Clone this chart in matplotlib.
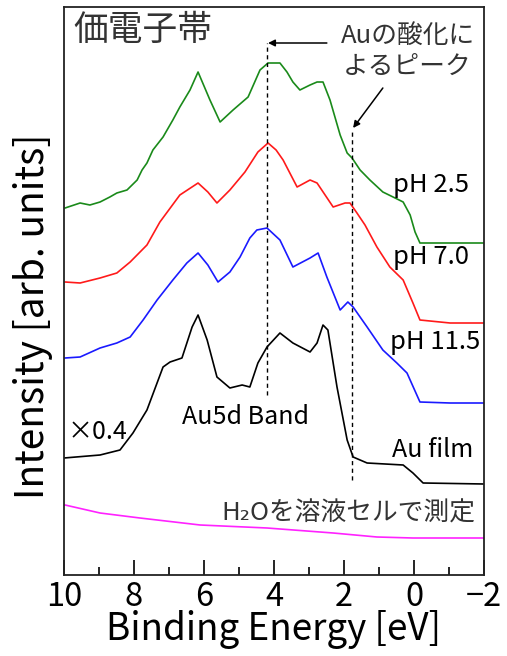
import matplotlib
matplotlib.use("Agg")
import matplotlib.pyplot as plt
import numpy as np

plt.rcParams['font.family'] = ['Noto Sans CJK JP', 'DejaVu Sans']

# Binding energy (eV) and intensity (arb. units)
e_ph25 = [9.97, 9.54, 9.26, 8.97, 8.69, 8.49, 8.20, 7.91, 7.77, 7.63, 7.46, 7.17, 6.89, 6.69,
          6.40, 6.17, 5.83, 5.54, 5.17, 4.74,
          4.40, 4.17, 3.83, 3.63, 3.46, 3.26, 2.97, 2.77, 2.60, 2.40, 2.11, 1.91, 1.77, 1.54,
          1.26, 0.89, 0.54, 0.31, 0.11, -0.03, -0.17, -1.03, -2.0]
i_ph25 = [367, 372, 370, 373, 378, 382, 385, 395, 405, 412, 425, 438, 455, 468,
          485, 503, 475, 453, 465, 478,
          505, 512, 512, 503, 493, 485, 490, 493, 493, 475, 440, 422, 417, 405,
          395, 383, 377, 373, 360, 343, 332, 332, 332]

e_ph70 = [9.97, 9.54, 8.97, 8.49, 8.11, 7.63, 7.26, 6.69, 6.17, 5.89, 5.63, 5.26, 4.83, 4.46,
          4.17, 3.94, 3.74, 3.34, 2.97, 2.77, 2.31, 1.97, 1.83, 1.63, 1.40, 1.06, 0.69, 0.31,
          0.03, -0.17, -1.03, -2.0]
i_ph70 = [293, 292, 297, 302, 313, 330, 353, 380, 392, 383, 372, 385, 403, 423,
          432, 425, 415, 388, 395, 392, 368, 372, 372, 362, 350, 328, 308, 295,
          272, 255, 252, 252]

e_ph115 = [9.97, 9.54, 8.97, 8.49, 8.11, 7.74, 7.34, 6.89, 6.49, 6.17, 5.89, 5.60, 5.26, 4.97,
           4.69, 4.49, 4.20, 3.83, 3.46, 2.97, 2.74, 2.49, 2.11, 1.89, 1.74, 1.34, 0.89, 0.49,
           0.20, -0.17, -1.03, -2.0]
i_ph115 = [217, 218, 227, 232, 238, 255, 275, 295, 312, 322, 310, 293, 303, 318,
           337, 345, 347, 335, 308, 317, 322, 298, 265, 273, 268, 248, 225, 212,
           202, 173, 172, 172]

e_au = [10.0, 8.97, 8.40, 8.03, 7.63, 7.17, 6.97, 6.63, 6.34, 6.17, 5.91, 5.63, 5.26, 4.91,
        4.69, 4.46, 4.20, 3.83, 3.46, 2.97, 2.77, 2.60, 2.46, 2.20, 1.91, 1.74, 1.34, 0.31,
        0.03, -0.26, -2.0]
i_au = [117, 120, 125, 142, 165, 208, 213, 217, 248, 260, 235, 198, 187, 190,
        188, 212, 228, 242, 232, 223, 232, 250, 245, 188, 135, 118, 112, 110,
        102, 92, 91]

e_h2o = [9.97, 8.97, 7.83, 6.11, 4.20, 2.31, 1.06, 0.03, -2.0]
i_h2o = [70, 62, 57, 50, 47, 42, 38, 37, 37]

dash_e = [4.2, 1.77]
dash_lo = [180, 95]
dash_hi = [532, 445]

fig = plt.figure(figsize=(5.07, 6.56), dpi=100)
ax = fig.add_axes([64/507, 1-575/656, (484-64)/507, (575-7)/656])

lw = 1.2
ax.plot(e_ph25, i_ph25, color='#1a8a1a', lw=lw)
ax.plot(e_ph70, i_ph70, color='#ff1a1a', lw=lw)
ax.plot(e_ph115, i_ph115, color='#1a1aff', lw=lw)
ax.plot(e_au, i_au, color='black', lw=lw)
ax.plot(e_h2o, i_h2o, color='#ff22ff', lw=lw)

for e, lo, hi in zip(dash_e, dash_lo, dash_hi):
    ax.plot([e, e], [lo, hi], color='black', lw=1.0, ls=(0, (3, 2.5)))

ax.annotate('', xy=(4.17, 532), xytext=(2.49, 532),
            arrowprops=dict(arrowstyle='-|>', color='black', lw=1.1,
                            mutation_scale=10, shrinkA=0, shrinkB=0))
ax.annotate('', xy=(1.74, 447), xytext=(0.89, 487),
            arrowprops=dict(arrowstyle='-|>', color='black', lw=1.1,
                            mutation_scale=10, shrinkA=0, shrinkB=0))

ax.set_xlim(10, -2)
ax.set_ylim(0, 568)
ax.set_xticks([10, 8, 6, 4, 2, 0, -2])
ax.set_xticks([9, 7, 5, 3, 1, -1], minor=True)
ax.tick_params(axis='x', which='major', direction='in', length=11, width=1.2,
               labelsize=23.5, pad=4)
ax.tick_params(axis='x', which='minor', direction='in', length=6, width=1.2)
ax.set_yticks([])
for s in ax.spines.values():
    s.set_linewidth(1.3)
    s.set_color('#222222')

ax.set_xlabel('Binding Energy [eV]', fontsize=26.5, labelpad=-2)
ax.set_ylabel('Intensity [arb. units]', fontsize=28)
ax.yaxis.set_label_coords(-0.027, 0.455)

gray = '#333333'
ax.text(9.74, 545, '価電子帯', fontsize=25, color=gray, ha='left', va='center')
ax.text(2.09, 539, 'Auの酸化に', fontsize=18.5, color=gray, ha='left', va='center')
ax.text(2.03, 508, 'よるピーク', fontsize=18.5, color=gray, ha='left', va='center')
ax.text(0.6, 390, 'pH 2.5', fontsize=18.5, color='black', ha='left', va='center')
ax.text(0.6, 318, 'pH 7.0', fontsize=18.5, color='black', ha='left', va='center')
ax.text(0.69, 233, 'pH 11.5', fontsize=18.5, color='black', ha='left', va='center')
ax.text(6.63, 158, 'Au5d Band', fontsize=18, color='black', ha='left', va='center')
ax.text(9.89, 143, '×0.4', fontsize=18, color='black', ha='left', va='center')
ax.text(0.63, 125, 'Au film', fontsize=18, color='black', ha='left', va='center')
ax.text(5.49, 61, 'H₂Oを溶液セルで測定', fontsize=18.5, color=gray, ha='left', va='center')

fig.savefig('out.png', dpi=100)
